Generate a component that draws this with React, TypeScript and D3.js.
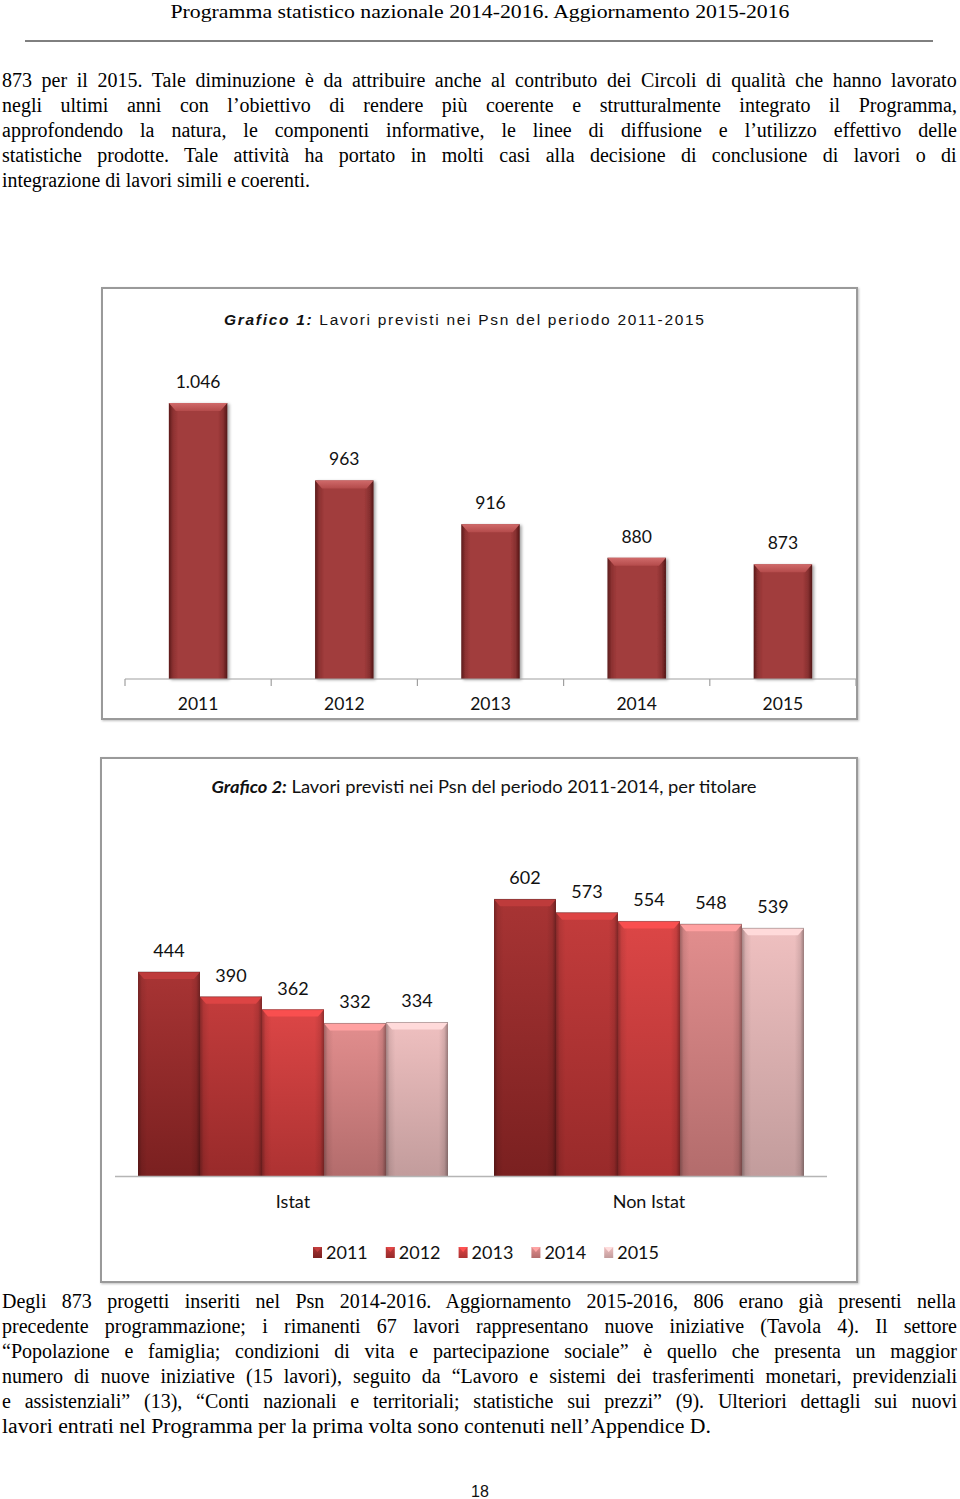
import React from "react";
import * as d3 from "d3";

// ---------------- DATA ----------------
const years = ["2011", "2012", "2013", "2014", "2015"];
const totals = [1046, 963, 916, 880, 873];
const groups = ["Istat", "Non Istat"];
const istatValues = [444, 390, 362, 332, 334];
const nonIstatValues = [602, 573, 554, 548, 539];

const headerText = "Programma statistico nazionale 2014-2016. Aggiornamento 2015-2016";
const title1Bold = "Grafico 1:";
const title1Rest = " Lavori previsti nei Psn del periodo 2011-2015";
const title2Bold = "Grafico 2:";
const title2Rest = " Lavori previsti nei Psn del periodo 2011-2014, per titolare";

const para1 = [
  "873 per il 2015. Tale diminuzione è da attribuire anche al contributo dei Circoli di qualità che hanno lavorato",
  "negli ultimi anni con l’obiettivo di rendere più coerente e strutturalmente integrato il Programma,",
  "approfondendo la natura, le componenti informative, le linee di diffusione e l’utilizzo effettivo delle",
  "statistiche prodotte. Tale attività ha portato in molti casi alla decisione di conclusione di lavori o di",
  "integrazione di lavori simili e coerenti.",
];
const para2 = [
  "Degli 873 progetti inseriti nel Psn 2014-2016. Aggiornamento 2015-2016, 806 erano già presenti nella",
  "precedente programmazione; i rimanenti 67 lavori rappresentano nuove iniziative (Tavola 4). Il settore",
  "“Popolazione e famiglia; condizioni di vita e partecipazione sociale” è quello che presenta un maggior",
  "numero di nuove iniziative (15 lavori), seguito da “Lavoro e sistemi dei trasferimenti monetari, previdenziali",
  "e assistenziali” (13), “Conti nazionali e territoriali; statistiche sui prezzi” (9). Ulteriori dettagli sui nuovi",
  "lavori entrati nel Programma per la prima volta sono contenuti nell’Appendice D.",
];
const pageNumber = "18";

// ---------------- STYLE ----------------
const seriesTop = ["#a83434", "#c33c3c", "#dc4646", "#e28e8e", "#efc0c0"];
const seriesBottom = ["#7a2020", "#982a2a", "#ad3232", "#b36c6c", "#c29c9c"];
const SERIF = "'Liberation Serif', 'Times New Roman', serif";
const SANS = "Lato, 'Liberation Sans', sans-serif";
const TEXT_SIZE = 20;

const itFormat = d3.formatLocale({
  decimal: ",",
  thousands: ".",
  grouping: [3],
  currency: ["€", ""],
}).format(",");

let ctx: CanvasRenderingContext2D | null = null;
function measure(text: string, font: string): number {
  if (!ctx) ctx = document.createElement("canvas").getContext("2d");
  if (!ctx) return text.length * 8;
  ctx.font = font;
  return ctx.measureText(text).width;
}

function Line({ text, x, y, width, justify, size }: any) {
  const font = `${size}px 'Liberation Serif'`;
  if (justify) {
    const w = measure(text, font);
    const spaces = (text.match(/ /g) || []).length;
    const ws = spaces ? (width - w) / spaces : 0;
    if (ws > -1.5) {
      return (
        <text x={x} y={y} fontFamily={SERIF} fontSize={size} fill="#000" style={{ wordSpacing: `${ws}px` }}>
          {text}
        </text>
      );
    }
  }
  return (
    <text x={x} y={y} fontFamily={SERIF} fontSize={size} fill="#000" textLength={width} lengthAdjust="spacingAndGlyphs">
      {text}
    </text>
  );
}

export default function App() {
  // Chart 1 scales
  const x1 = d3.scaleBand<string>().domain(years).range([125, 856]).padding(0);
  const y1 = d3.scaleLinear().domain([750, 1100]).range([679, 679 - 350 * 0.9324]);
  const bw1 = x1.bandwidth() * 0.4;

  // Chart 2 scales
  const x0 = d3.scaleBand<string>().domain(groups).range([115, 827]).padding(0);
  const inner = 310;
  const xi = d3.scaleBand<string>().domain(years).range([0, inner]).padding(0);
  const y2 = d3.scaleLinear().domain([0, 700]).range([1176, 1176 - 700 * 0.4596]);
  const groupValues = [istatValues, nonIstatValues];

  const para1Ends = [957, 957, 957, 957, 310];
  const para2Ends = [957, 957, 957, 957, 957, 711];

  return (
    <svg
      width={960}
      height={1499}
      viewBox="0 0 960 1499"
      style={{ position: "absolute", left: 0, top: 0, display: "block", background: "#fff" }}
    >
      <defs>
        <linearGradient id="c1h" x1="0" x2="1" y1="0" y2="0">
          <stop offset="0" stopColor="#5a1a1a" />
          <stop offset="0.07" stopColor="#8c3131" />
          <stop offset="0.16" stopColor="#a13c3c" />
          <stop offset="0.84" stopColor="#a13c3c" />
          <stop offset="0.93" stopColor="#873030" />
          <stop offset="1" stopColor="#521616" />
        </linearGradient>
        <linearGradient id="c1top" x1="0" x2="0" y1="0" y2="1">
          <stop offset="0" stopColor="#d06a6a" />
          <stop offset="1" stopColor="#b44b4b" />
        </linearGradient>
        <linearGradient id="edgeShade" x1="0" x2="1" y1="0" y2="0">
          <stop offset="0" stopColor="#000" stopOpacity="0.3" />
          <stop offset="0.06" stopColor="#000" stopOpacity="0.08" />
          <stop offset="0.15" stopColor="#000" stopOpacity="0" />
          <stop offset="0.85" stopColor="#000" stopOpacity="0" />
          <stop offset="0.94" stopColor="#000" stopOpacity="0.1" />
          <stop offset="1" stopColor="#000" stopOpacity="0.35" />
        </linearGradient>
        {years.map((yr, i) => (
          <linearGradient key={yr} id={`s${i}`} x1="0" x2="0" y1="0" y2="1">
            <stop offset="0" stopColor={seriesTop[i]} />
            <stop offset="1" stopColor={seriesBottom[i]} />
          </linearGradient>
        ))}
        <filter id="shadow" x="-20%" y="-10%" width="140%" height="120%">
          <feDropShadow dx="2" dy="1" stdDeviation="1.5" floodColor="#000" floodOpacity="0.35" />
        </filter>
        <filter id="boxShadow" x="-5%" y="-5%" width="110%" height="110%">
          <feDropShadow dx="1" dy="1" stdDeviation="1" floodColor="#000" floodOpacity="0.25" />
        </filter>
      </defs>

      {/* Header */}
      <text x={480} y={18} textAnchor="middle" fontFamily={SERIF} fontSize={19} textLength={619} lengthAdjust="spacingAndGlyphs">
        {headerText}
      </text>
      <line x1={25} x2={933} y1={41} y2={41} stroke="#000" strokeWidth={1} />

      {/* Paragraph 1 */}
      {para1.map((t, i) => (
        <Line key={i} text={t} x={2} y={87 + i * 25} width={para1Ends[i] - 2} justify={i < para1.length - 1} size={TEXT_SIZE} />
      ))}

      {/* Chart 1 box */}
      <rect x={102} y={288} width={755} height={431} fill="#fff" stroke="#9a9a9a" strokeWidth={2} filter="url(#boxShadow)" />
      <text x={464} y={325} textAnchor="middle" fontFamily="'Liberation Sans', Arial, sans-serif" fontSize={15.5} fill="#111" textLength={480} lengthAdjust="spacing">
        <tspan fontWeight="bold" fontStyle="italic">{title1Bold}</tspan>
        <tspan>{title1Rest}</tspan>
      </text>
      {years.map((yr, i) => {
        const bx = (x1(yr) as number) + (x1.bandwidth() - bw1) / 2;
        const top = y1(totals[i]);
        const h = y1(750) - top;
        return (
          <g key={yr}>
            <rect x={bx} y={top} width={bw1} height={h} fill="url(#c1h)" filter="url(#shadow)" />
            <polygon
              points={`${bx},${top} ${bx + bw1},${top} ${bx + bw1 - 7},${top + 8} ${bx + 7},${top + 8}`}
              fill="url(#c1top)"
            />
            <text x={bx + bw1 / 2} y={top - 15} textAnchor="middle" fontFamily={SANS} fontSize={17.5} fill="#111">
              {itFormat(totals[i])}
            </text>
            <text x={(x1(yr) as number) + x1.bandwidth() / 2} y={710} textAnchor="middle" fontFamily={SANS} fontSize={17.5} fill="#111">
              {yr}
            </text>
          </g>
        );
      })}
      <line x1={125} x2={856} y1={679} y2={679} stroke="#a0a0a0" strokeWidth={1.2} />
      {[...years.map((yr) => x1(yr) as number), 856].map((tx, i) => (
        <line key={i} x1={tx} x2={tx} y1={679} y2={686} stroke="#a0a0a0" strokeWidth={1.2} />
      ))}

      {/* Chart 2 box */}
      <rect x={101} y={758} width={756} height={524} fill="#fff" stroke="#9a9a9a" strokeWidth={2} filter="url(#boxShadow)" />
      <text x={484} y={793} textAnchor="middle" fontFamily={SANS} fontSize={17} fill="#111" textLength={545} lengthAdjust="spacingAndGlyphs">
        <tspan fontWeight="bold" fontStyle="italic">{title2Bold}</tspan>
        <tspan>{title2Rest}</tspan>
      </text>
      {groups.map((g, gi) => {
        const gx = (x0(g) as number) + (x0.bandwidth() - inner) / 2;
        return (
          <g key={g}>
            {years.map((yr, i) => {
              const v = groupValues[gi][i];
              const bx = gx + (xi(yr) as number);
              const w = xi.bandwidth();
              const top = y2(v);
              const h = y2(0) - top;
              const bevel = d3.color(seriesTop[i])!.brighter(0.35).formatHex();
              return (
                <g key={yr}>
                  <rect x={bx} y={top} width={w} height={h} fill={`url(#s${i})`} />
                  <rect x={bx} y={top} width={w} height={h} fill="url(#edgeShade)" />
                  <polygon
                    points={`${bx},${top} ${bx + w},${top} ${bx + w - 6},${top + 7} ${bx + 6},${top + 7}`}
                    fill={bevel}
                  />
                  <line x1={bx} x2={bx + w} y1={top} y2={top} stroke="#000" strokeOpacity={0.25} />
                  <text x={bx + w / 2} y={top - 15} textAnchor="middle" fontFamily={SANS} fontSize={18} fill="#111">
                    {v}
                  </text>
                </g>
              );
            })}
            <text x={(x0(g) as number) + x0.bandwidth() / 2} y={1208} textAnchor="middle" fontFamily={SANS} fontSize={18} fill="#111">
              {g}
            </text>
          </g>
        );
      })}
      <line x1={115} x2={827} y1={1176.5} y2={1176.5} stroke="#b5b5b5" strokeWidth={1.5} />

      {/* Legend */}
      {years.map((yr, i) => {
        const lx = 313 + i * 72.8;
        return (
          <g key={yr}>
            <rect x={lx} y={1247} width={9} height={11} fill={`url(#s${i})`} />
            <polygon points={`${lx},${1247} ${lx + 9},${1247} ${lx + 4.5},${1252}`} fill={d3.color(seriesTop[i])!.brighter(0.4).formatHex()} />
            <text x={lx + 13} y={1258.5} fontFamily={SANS} fontSize={18} fill="#111">
              {yr}
            </text>
          </g>
        );
      })}

      {/* Paragraph 2 */}
      {para2.map((t, i) => (
        <Line key={i} text={t} x={2} y={1308 + i * 25} width={para2Ends[i] - 2} justify={i < para2.length - 1} size={TEXT_SIZE} />
      ))}

      <text x={480} y={1497} textAnchor="middle" fontFamily="'Liberation Sans', Arial, sans-serif" fontSize={16} fill="#111">
        {pageNumber}
      </text>
    </svg>
  );
}
